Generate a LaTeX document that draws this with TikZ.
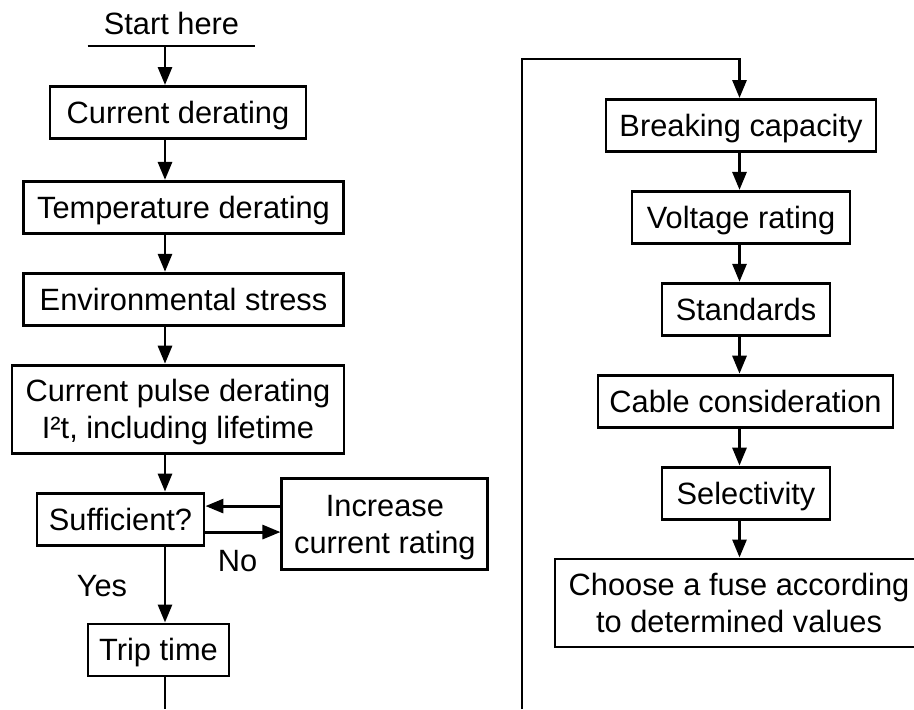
\documentclass[tikz,border=0pt]{standalone}
\usepackage{fontspec}
\setmainfont{Liberation Sans}
\usetikzlibrary{positioning,arrows.meta}

\begin{document}
\begin{tikzpicture}[x=1pt, y=1pt, node distance=18.5pt, line width=1.45pt,
    font=\fontsize{15.4}{18.5}\selectfont, >={Triangle[length=9pt,width=7pt]},
    every node/.style={draw, inner xsep=4pt, inner ysep=0pt, minimum height=26pt, text height=11pt, text depth=0pt},
    twoline/.style={align=center, minimum height=44pt, text height=29.5pt},
    lbl/.style={draw=none, inner sep=0pt, minimum height=0pt, anchor=base}]
        \useasboundingbox (0,0) rectangle (457,-354.5);

        % lanes the arrows run along
        \coordinate (laneL) at (82.5,0);
        \coordinate (laneR) at (369.75,0);
        \coordinate (endL) at (82.5,-354.5);
        \coordinate (endR) at (261,-354.5);
        \coordinate (topR) at (369.75,-29.5);

        % Left column
        \node (start) [anchor=south, draw=none, minimum width=82.5pt, minimum height=0pt, inner ysep=5pt] at (85.75,-23) {Start here};
        \node (cur) [below=19.5pt of start, xshift=3.25pt, minimum width=128pt] {Current derating};
        \node (temp) [below=20pt of cur, xshift=2.75pt, minimum width=160pt] {Temperature derating};
        \node (env) [below=of temp, minimum width=160pt] {Environmental stress};
        \node (pulse) [below=of env, xshift=-2.75pt, twoline, minimum width=166pt] {Current pulse derating\\I²t, including lifetime};
        \node (suff) [below=of pulse, xshift=-28.75pt, minimum width=83.5pt] {Sufficient?};
        \node (incr) [right=37.5pt of suff, yshift=-2.25pt, twoline, minimum height=45.5pt, minimum width=103pt] {Increase\\current rating};
        \node (trip) [below=38pt of suff, xshift=19pt, minimum width=70.5pt] {Trip time};

        \node (no) [lbl] at ([shift={(16,-12.5)}]suff.south east) {No};
        \node (yes) [lbl] at ([shift={(-9.25,-25)}]suff.south) {Yes};

        % Right column
        \node (brk) [below=19.5pt of topR, xshift=0.75pt, minimum width=135pt] {Breaking capacity};
        \node (volt) [below=of brk, minimum width=109pt] {Voltage rating};
        \node (std) [below=of volt, xshift=2.5pt, minimum width=84pt] {Standards};
        \node (cable) [below=of std, xshift=-0.25pt, minimum width=147.5pt] {Cable consideration};
        \node (sel) [below=of cable, xshift=0.25pt, minimum width=84pt] {Selectivity};
        \node (choose) [below=of sel, xshift=-3.5pt, twoline, minimum width=184pt] {Choose a fuse according\\to determined values};

        % Arrows down the left column
        \draw (start.south west) -- (start.south east);
        \draw[->] (start.south -| laneL) -- (cur.north -| laneL);
        \draw[->] (cur.south -| laneL) -- (temp.north -| laneL);
        \draw[->] (temp.south -| laneL) -- (env.north -| laneL);
        \draw[->] (env.south -| laneL) -- (pulse.north -| laneL);
        \draw[->] (pulse.south -| laneL) -- (suff.north -| laneL);
        \draw[->] ([yshift=6.5pt]suff.east -| incr.west) -- ([yshift=6.5pt]suff.east);
        \draw[->] ([yshift=-6.5pt]suff.east) -- ([yshift=-6.5pt]suff.east -| incr.west);
        \draw[->] (suff.south -| laneL) -- (trip.north -| laneL);
        \draw (trip.south -| laneL) -- (endL);

        % Continuation into the right column
        \draw[->] (endR) |- (topR) -- (brk.north -| laneR);
        \draw[->] (brk.south -| laneR) -- (volt.north -| laneR);
        \draw[->] (volt.south -| laneR) -- (std.north -| laneR);
        \draw[->] (std.south -| laneR) -- (cable.north -| laneR);
        \draw[->] (cable.south -| laneR) -- (sel.north -| laneR);
        \draw[->] (sel.south -| laneR) -- (choose.north -| laneR);
\end{tikzpicture}
\end{document}
